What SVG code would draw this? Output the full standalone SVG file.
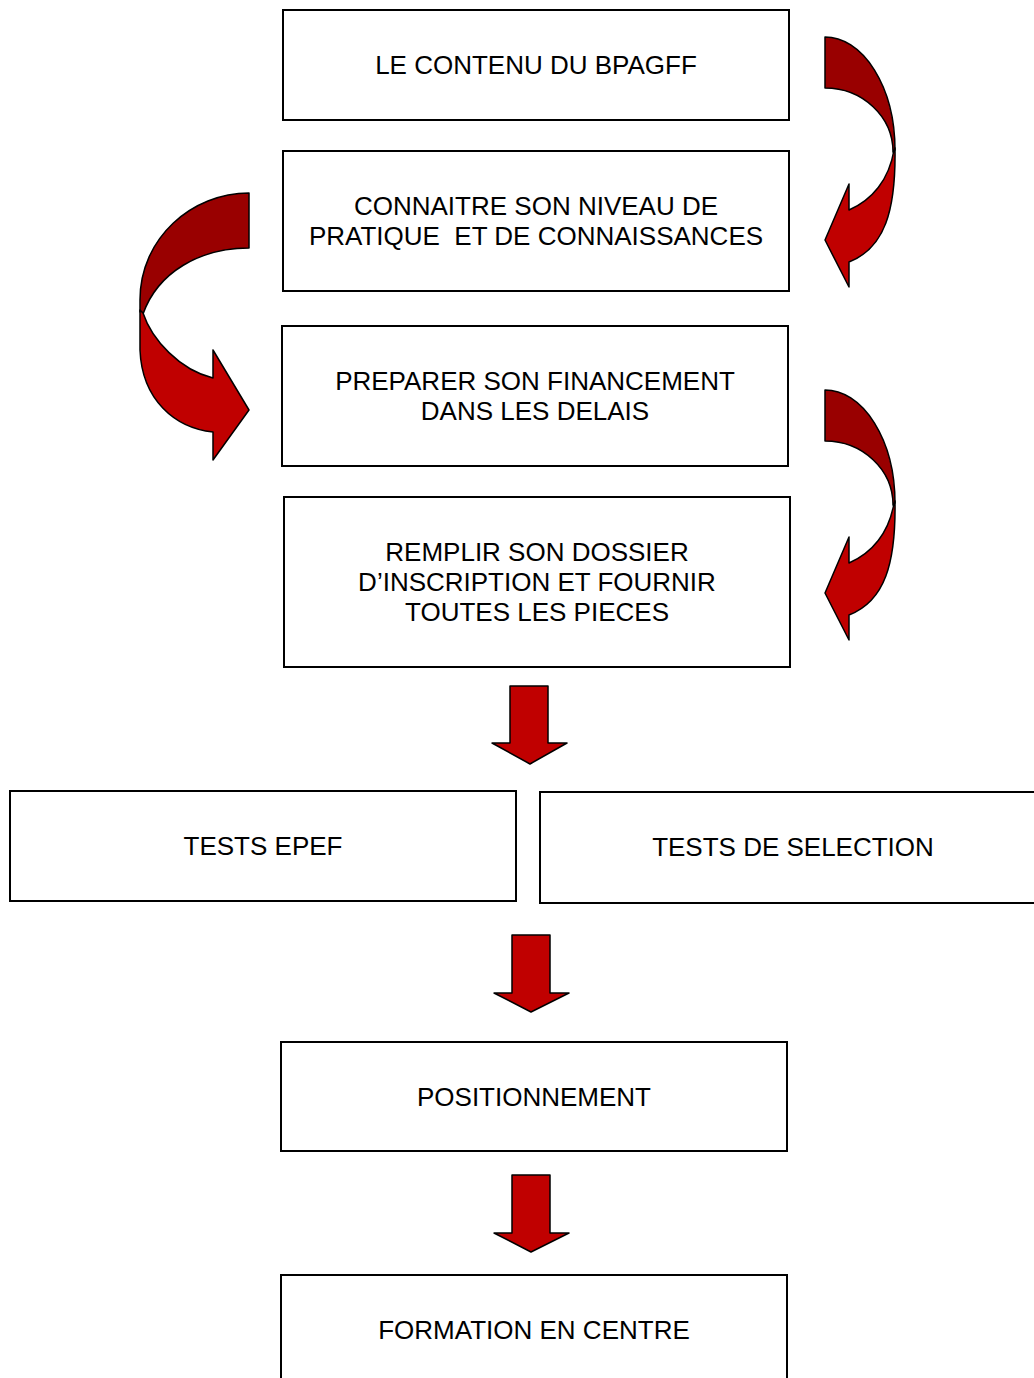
<svg xmlns="http://www.w3.org/2000/svg" width="1034" height="1378" viewBox="0 0 1034 1378">
<style>
.box{fill:#fff;stroke:#000;stroke-width:2}
.t{font-family:"Liberation Sans",Arial,sans-serif;font-size:26px;fill:#000;text-anchor:middle;white-space:pre}
.dk{fill:#990000;stroke:#000;stroke-width:1.5;stroke-linejoin:round}
.br{fill:#C00000;stroke:#000;stroke-width:1.5;stroke-linejoin:round}
</style>
<rect width="1034" height="1378" fill="#fff"/>
<g id="connectors">
  <g id="curve-right-1">
    <path class="dk" d="M825,37 A70,113 0 0 1 895,150 L893,152 A68,64 0 0 0 825,88 Z"/>
    <path class="br" d="M895,148 C896,210 885,248 849,262 L849,287 L825,240 L849,184 L849,210 C872,200 889,180 894,150 Z"/>
  </g>
  <g id="curve-left">
    <path class="dk" d="M249,193 C192,193 140,238 140,300 L140,312 L143,314 C158,272 200,248 249,248 Z"/>
    <path class="br" d="M140,310 L140,350 C142,400 175,428 213,432 L213,460 L249,410 L213,350 L213,378 C180,370 152,340 143,313 Z"/>
  </g>
  <g id="curve-right-2" transform="translate(0,353)">
    <path class="dk" d="M825,37 A70,113 0 0 1 895,150 L893,152 A68,64 0 0 0 825,88 Z"/>
    <path class="br" d="M895,148 C896,210 885,248 849,262 L849,287 L825,240 L849,184 L849,210 C872,200 889,180 894,150 Z"/>
  </g>
  <path class="br" d="M510,686 L548,686 L548,743 L567,743 L530,764 L492,743 L510,743 Z"/>
  <path class="br" d="M512,935 L550,935 L550,993 L569,993 L531,1012 L494,993 L512,993 Z"/>
  <path class="br" d="M512,1175 L550,1175 L550,1233 L569,1233 L531,1252 L494,1233 L512,1233 Z"/>
</g>
<g id="n1"><rect class="box" x="283" y="10" width="506" height="110"/><text class="t" x="536" y="74">LE CONTENU DU BPAGFF</text></g>
<g id="n2"><rect class="box" x="283" y="151" width="506" height="140"/><text class="t" x="536" y="215">CONNAITRE SON NIVEAU DE</text><text class="t" x="536" y="245">PRATIQUE  ET DE CONNAISSANCES</text></g>
<g id="n3"><rect class="box" x="282" y="326" width="506" height="140"/><text class="t" x="535" y="390">PREPARER SON FINANCEMENT</text><text class="t" x="535" y="420">DANS LES DELAIS</text></g>
<g id="n4"><rect class="box" x="284" y="497" width="506" height="170"/><text class="t" x="537" y="561">REMPLIR SON DOSSIER</text><text class="t" x="537" y="591">D’INSCRIPTION ET FOURNIR</text><text class="t" x="537" y="621">TOUTES LES PIECES</text></g>
<g id="n5"><rect class="box" x="10" y="791" width="506" height="110"/><text class="t" x="263" y="855">TESTS EPEF</text></g>
<g id="n6"><rect class="box" x="540" y="792" width="506" height="111"/><text class="t" x="793" y="856">TESTS DE SELECTION</text></g>
<g id="n7"><rect class="box" x="281" y="1042" width="506" height="109"/><text class="t" x="534" y="1106">POSITIONNEMENT</text></g>
<g id="n8"><rect class="box" x="281" y="1275" width="506" height="120"/><text class="t" x="534" y="1339">FORMATION EN CENTRE</text></g>
</svg>
